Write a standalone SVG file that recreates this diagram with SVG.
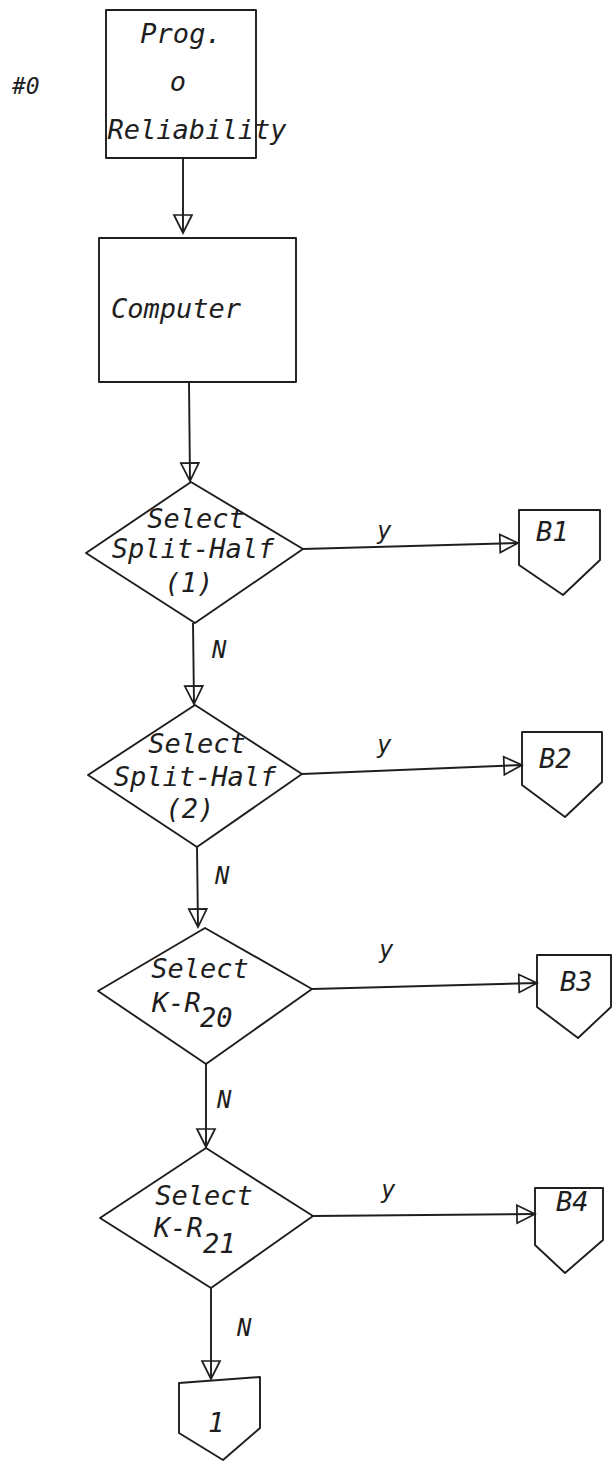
<svg xmlns="http://www.w3.org/2000/svg" width="613" height="1461" viewBox="0 0 613 1461">
<style>
.s{fill:none;stroke:#1e1e1e;stroke-width:1.9;stroke-linejoin:round}
.t{font-family:"DejaVu Sans Mono","Liberation Mono",monospace;font-style:oblique;font-size:27px;fill:#1e1e1e}
.l{font-family:"DejaVu Sans Mono","Liberation Mono",monospace;font-style:oblique;font-size:24px;fill:#1e1e1e}
.h{font-family:"DejaVu Sans Mono","Liberation Mono",monospace;font-style:oblique;font-size:23px;fill:#1e1e1e}
.m{text-anchor:middle}
.c{fill:none;stroke:#1e1e1e;stroke-width:1.9}
</style>
<defs>
<marker id="ah" markerUnits="userSpaceOnUse" markerWidth="24" markerHeight="24" refX="18" refY="9" orient="auto" overflow="visible">
<path d="M0,0 L18,9 L0,18 Z" fill="none" stroke="#1e1e1e" stroke-width="1.7"/>
</marker>
</defs>
<rect width="613" height="1461" fill="#fff"/>
<text class="h" x="12" y="94">#0</text>
<g id="prog">
<rect class="s" x="106" y="10" width="150" height="148"/>
<text class="t m" x="181" y="43">Prog.</text>
<text class="t m" x="178" y="91">o</text>
<text class="t m" x="197" y="139">Reliability</text>
</g>
<g id="computer">
<rect class="s" x="99" y="238" width="197" height="144"/>
<text class="t" x="111" y="318">Computer</text>
</g>
<g id="d1">
<path class="s" d="M191,482 L303,549 L195,623 L86,553 Z"/>
<text class="t m" x="196" y="528">Select</text>
<text class="t m" x="193" y="558">Split-Half</text>
<text class="t m" x="189" y="592">(1)</text>
</g>
<g id="b1">
<path class="s" d="M519,510 L600,510 L600,560 L563,595 L519,565 Z"/>
<text class="t" x="536" y="541">B1</text>
</g>
<g id="d2">
<path class="s" d="M195,705 L302,774 L197,847 L88,775 Z"/>
<text class="t m" x="197" y="753">Select</text>
<text class="t m" x="195" y="786">Split-Half</text>
<text class="t m" x="190" y="818">(2)</text>
</g>
<g id="b2">
<path class="s" d="M522,732 L602,732 L602,782 L565,817 L522,785 Z"/>
<text class="t" x="539" y="768">B2</text>
</g>
<g id="d3">
<path class="s" d="M205,928 L312,989 L206,1064 L98,991 Z"/>
<text class="t m" x="200" y="978">Select</text>
<text class="t" x="152" y="1012">K-R</text>
<text class="t" x="200" y="1027">20</text>
</g>
<g id="b3">
<path class="s" d="M537,955 L611,955 L611,1007 L578,1038 L537,1007 Z"/>
<text class="t" x="560" y="991">B3</text>
</g>
<g id="d4">
<path class="s" d="M206,1148 L313,1216 L211,1288 L100,1218 Z"/>
<text class="t m" x="204" y="1205">Select</text>
<text class="t" x="154" y="1237">K-R</text>
<text class="t" x="203" y="1253">21</text>
</g>
<g id="b4">
<path class="s" d="M535,1188 L603,1188 L603,1240 L565,1273 L535,1245 Z"/>
<text class="t" x="556" y="1211">B4</text>
</g>
<g id="c1">
<path class="s" d="M179,1383 L260,1377 L260,1428 L223,1460 L179,1433 Z"/>
<text class="t" x="208" y="1432">1</text>
</g>
<g id="connectors">
<line class="c" x1="183" y1="158" x2="183" y2="233" marker-end="url(#ah)"/>
<line class="c" x1="189" y1="382" x2="190" y2="481" marker-end="url(#ah)"/>
<line class="c" x1="303" y1="549" x2="518" y2="543" marker-end="url(#ah)"/>
<text class="l" x="377" y="539">y</text>
<line class="c" x1="193" y1="623" x2="194" y2="704" marker-end="url(#ah)"/>
<text class="l" x="212" y="658">N</text>
<line class="c" x1="302" y1="774" x2="522" y2="765" marker-end="url(#ah)"/>
<text class="l" x="377" y="753">y</text>
<line class="c" x1="197" y1="847" x2="198" y2="927" marker-end="url(#ah)"/>
<text class="l" x="215" y="884">N</text>
<line class="c" x1="312" y1="989" x2="537" y2="983" marker-end="url(#ah)"/>
<text class="l" x="379" y="958">y</text>
<line class="c" x1="206" y1="1064" x2="206" y2="1147" marker-end="url(#ah)"/>
<text class="l" x="217" y="1108">N</text>
<line class="c" x1="313" y1="1216" x2="535" y2="1214" marker-end="url(#ah)"/>
<text class="l" x="381" y="1198">y</text>
<line class="c" x1="211" y1="1288" x2="211" y2="1379" marker-end="url(#ah)"/>
<text class="l" x="237" y="1336">N</text>
</g>
</svg>
